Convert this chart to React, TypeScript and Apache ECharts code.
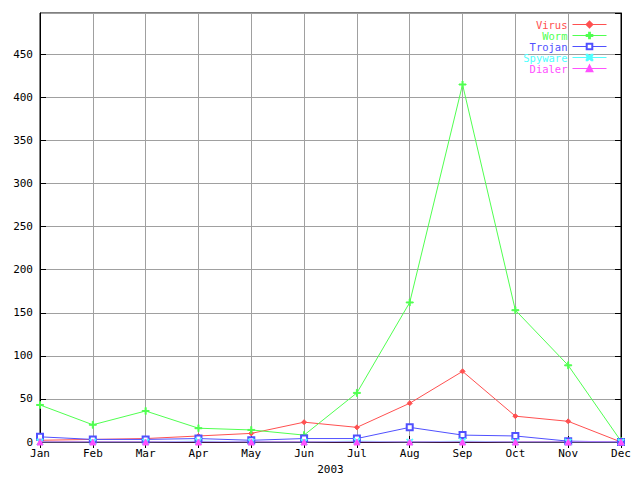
import React, { useEffect, useRef } from "react";
import * as echarts from "echarts";

const months = ["Jan", "Feb", "Mar", "Apr", "May", "Jun", "Jul", "Aug", "Sep", "Oct", "Nov", "Dec"];
const virus = [2, 3, 4, 7, 10, 23, 17, 45, 82, 30, 24, 0];
const worm = [43, 20, 36, 16, 14, 8, 57, 162, 415, 153, 89, 1];
const trojan = [6, 3, 3, 4, 2, 4, 4, 17, 8, 7, 1, 0];
const spyware = [0, 0, 0, 1, 0, 0, 1, 0, 1, 0, 0, 0];
const dialer = [0, 0, 0, 0, 0, 0, 0, 0, 0, 0, 0, 0];
const xName = "2003";

const FONT = "DejaVu Sans Mono";

export default function App() {
  const ref = useRef<HTMLDivElement>(null);
  useEffect(() => {
    if (!ref.current) return;
    const chart = echarts.init(ref.current, undefined, { renderer: "svg" });
    const defs = [
      { name: "Virus", data: virus, color: "#ff5050", symbol: "diamond", size: 5 },
      { name: "Worm", data: worm, color: "#50ff50", symbol: "path://M3,0h1v7h-1zM0,3h7v1h-7z", size: 7 },
      { name: "Trojan", data: trojan, color: "#5050ff", symbol: "emptyRect", size: 6 },
      { name: "Spyware", data: spyware, color: "#50ffff", symbol: "path://M0,0L1,0L7,6L7,7L6,7L0,1ZM6,0L7,0L7,1L1,7L0,7L0,6Z", size: 6 },
      { name: "Dialer", data: dialer, color: "#ff50ff", symbol: "triangle", size: 6 },
    ];
    const axisCommonY = {
      type: "value" as const,
      min: 0,
      max: 498,
      interval: 50,
    };
    chart.setOption({
      animation: false,
      backgroundColor: "#ffffff",
      textStyle: { fontFamily: FONT },
      grid: {
        left: 40,
        right: 19,
        top: 13,
        bottom: 34,
        show: true,
        borderColor: "#000",
        borderWidth: 1,
        backgroundColor: "transparent",
      },
      legend: {
        orient: "vertical",
        right: 33,
        top: 19,
        align: "right",
        itemWidth: 34,
        itemHeight: 7,
        itemGap: 0,
        padding: 0,
        lineStyle: { width: 1 },
        data: defs.map((d) => ({ name: d.name, textStyle: { color: d.color } })),
        textStyle: { fontFamily: FONT, fontSize: 10.5, lineHeight: 11 },
      },
      xAxis: [
        {
          type: "category",
          data: months,
          boundaryGap: false,
          position: "bottom",
          name: xName,
          nameLocation: "middle",
          nameGap: 22,
          nameTextStyle: { fontFamily: FONT, fontSize: 11, color: "#000" },
          axisLine: { show: true, lineStyle: { color: "#000" } },
          axisTick: { show: true, inside: true, length: 6, lineStyle: { color: "#000" } },
          axisLabel: { fontFamily: FONT, fontSize: 11, color: "#000", margin: 6, interval: 0 },
          splitLine: { show: true, lineStyle: { color: "#a0a0a0", width: 1 } },
        },
        {
          type: "category",
          data: months,
          boundaryGap: false,
          position: "top",
          axisLine: { show: true, lineStyle: { color: "#000" } },
          axisTick: { show: true, inside: true, length: 6, lineStyle: { color: "#000" } },
          axisLabel: { show: false },
          splitLine: { show: false },
        },
      ],
      yAxis: [
        {
          ...axisCommonY,
          position: "left",
          axisLine: { show: true, lineStyle: { color: "#000" } },
          axisTick: { show: true, inside: true, length: 6, lineStyle: { color: "#000" } },
          axisLabel: { fontFamily: FONT, fontSize: 11, color: "#000", margin: 7, showMaxLabel: false },
          splitLine: { show: true, lineStyle: { color: "#a0a0a0", width: 1 } },
        },
        {
          ...axisCommonY,
          position: "right",
          axisLine: { show: true, lineStyle: { color: "#000" } },
          axisTick: { show: true, inside: true, length: 6, lineStyle: { color: "#000" } },
          axisLabel: { show: false },
          splitLine: { show: false },
        },
      ],
      series: defs.map((d) => ({
        name: d.name,
        type: "line",
        data: d.data,
        xAxisIndex: 0,
        yAxisIndex: 0,
        symbol: d.symbol,
        symbolSize: d.size,
        showAllSymbol: true,
        lineStyle: { color: d.color, width: 1 },
        itemStyle: { color: d.color, borderColor: d.color, borderWidth: 1 },
        emphasis: { disabled: true },
      })),
    });
    return () => chart.dispose();
  }, []);
  return <div ref={ref} style={{ width: 640, height: 480, position: "absolute", left: 0, top: 0 }} />;
}
